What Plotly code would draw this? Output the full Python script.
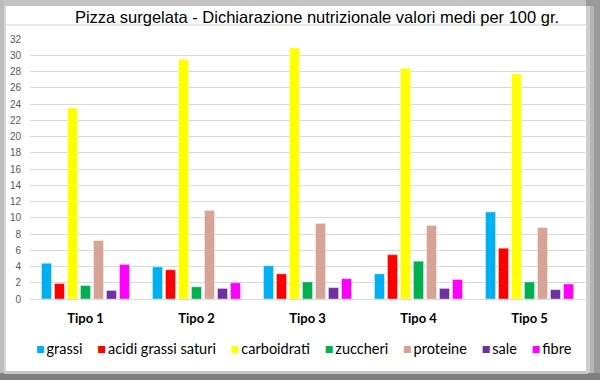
import plotly.graph_objects as go

categories = ["Tipo 1", "Tipo 2", "Tipo 3", "Tipo 4", "Tipo 5"]
series_names = ["grassi", "acidi grassi saturi", "carboidrati", "zuccheri", "proteine", "sale", "fibre"]
grassi = [4.4, 3.95, 4.1, 3.1, 10.7]
acidi_grassi_saturi = [1.9, 3.6, 3.1, 5.45, 6.25]
carboidrati = [23.5, 29.5, 30.9, 28.4, 27.7]
zuccheri = [1.65, 1.5, 2.1, 4.65, 2.1]
proteine = [7.2, 10.9, 9.3, 9.05, 8.8]
sale = [1.05, 1.3, 1.4, 1.3, 1.15]
fibre = [4.25, 2.0, 2.5, 2.4, 1.85]
colors = ["#00B0F0", "#FF0000", "#FFFF00", "#00B050", "#D5A496", "#7030A0", "#FF00FF"]
y_ticks = list(range(0, 33, 2))

series_values = [grassi, acidi_grassi_saturi, carboidrati, zuccheri, proteine, sale, fibre]

W, H = 600, 380
L, R, T, B = 30, 585, 39, 299

def px(x):
    return (x - L) / (R - L)

def py(y):
    return (B - y) / (B - T)

fig = go.Figure()
for name, vals, col in zip(series_names, series_values, colors):
    fig.add_trace(go.Bar(
        x=categories, y=vals, name=name, showlegend=False,
        marker=dict(color=col, line=dict(color="rgba(255,255,255,0.6)", width=0.6)),
    ))

shapes = []
def rect(x0, y0, x1, y1, color):
    shapes.append(dict(type="rect", xref="paper", yref="paper",
                       x0=px(x0), x1=px(x1), y0=py(y0), y1=py(y1),
                       fillcolor=color, line=dict(width=0), layer="below"))

# frame (bevel look)
rect(0, 0, 600, 6, "#C4C4C4")
rect(0, 0, 4, 380, "#BDBDBD")
rect(4, 6, 6, 374, "#D8D8D8")
rect(586, 0, 600, 380, "#9A9A9A")
rect(586, 6, 590, 374, "#CFCFCF")
rect(590, 6, 594, 376, "#B5B5B5")
rect(0, 373, 600, 380, "#7F7F7F")
rect(4, 371, 588, 374, "#C8C8C8")
# title separator line
shapes.append(dict(type="line", xref="paper", yref="paper",
                   x0=px(4), x1=px(586), y0=py(25), y1=py(25),
                   line=dict(color="#D0D0D0", width=1), layer="below"))

# legend row as a single text line built from the series names and colours
sep = "&nbsp;&nbsp;&nbsp;&nbsp;"
small_gap = "<span style='font-size:7px'>&nbsp;</span>"
legend_text = sep.join(
    f"<span style='color:{c}'>■</span>{small_gap}{n}" for n, c in zip(series_names, colors)
)

fig.update_layout(
    width=W, height=H,
    margin=dict(l=L, r=W - R, t=T, b=H - B, pad=0, autoexpand=False),
    paper_bgcolor="white", plot_bgcolor="white",
    barmode="group", bargap=0.18, bargroupgap=0.23,
    title=dict(text="Pizza surgelata - Dichiarazione nutrizionale valori medi per 100 gr.",
               font=dict(family="Liberation Sans, Arial", size=16.5, color="#000000"),
               x=px(317), xref="paper", xanchor="center",
               y=1 - 17 / H, yref="container", yanchor="middle"),
    font=dict(family="Lato, sans-serif"),
    showlegend=False,
    shapes=shapes,
    annotations=[dict(text=legend_text, xref="paper", yref="paper",
                      x=px(304), y=py(348), xanchor="center", yanchor="middle",
                      showarrow=False,
                      font=dict(family="Lato, sans-serif", size=14.5, color="#000000"))],
)
fig.update_yaxes(range=[0, 32], tickvals=y_ticks, showgrid=True, gridcolor="#D9D9D9", gridwidth=1,
                 zeroline=True, zerolinecolor="#D9D9D9", zerolinewidth=1,
                 tickfont=dict(family="Liberation Sans, Arial", size=10, color="#595959"),
                 ticks="", ticklabelstandoff=8, showline=False, automargin=False)
fig.update_xaxes(showgrid=False, showline=False, ticks="", automargin=False,
                 tickfont=dict(family="Lato, sans-serif", size=13, color="#000000", weight="bold"),
                 ticklabelstandoff=10)

fig.write_html("out.html", config={"displayModeBar": False},
               post_script="document.body.style.margin='0';document.body.style.overflow='hidden';")
